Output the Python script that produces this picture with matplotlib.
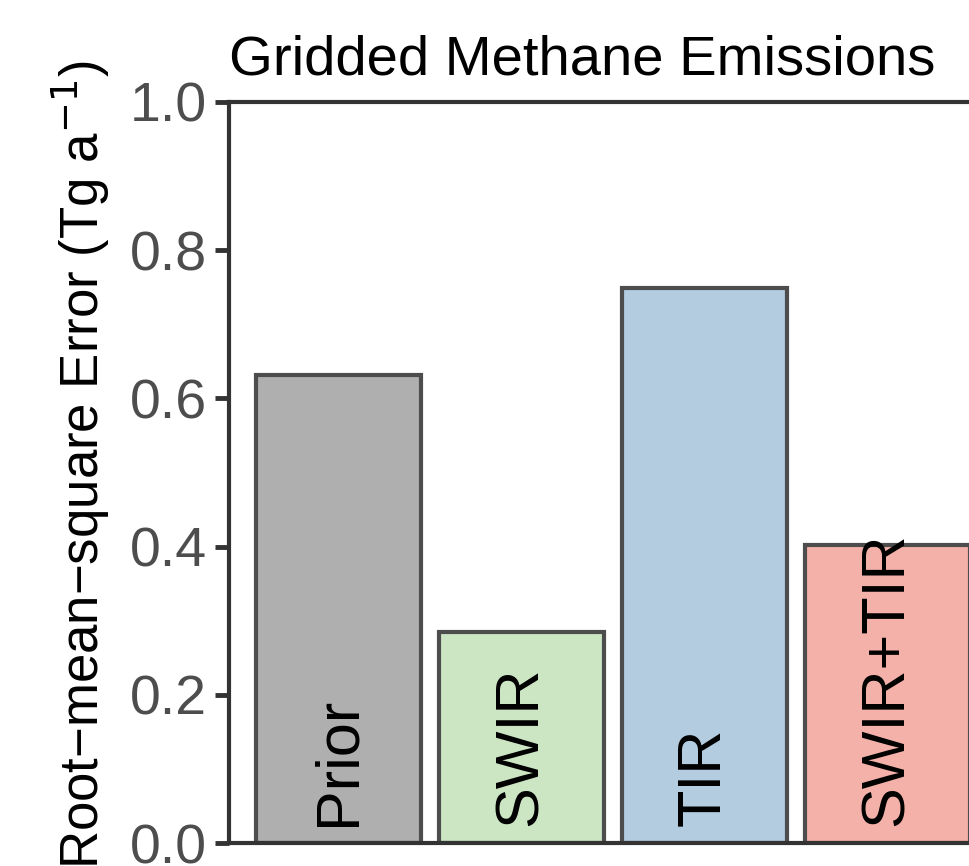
import numpy as np
import matplotlib
matplotlib.use('Agg')
import matplotlib.pyplot as plt

plt.rcParams['font.family'] = ['Liberation Sans', 'DejaVu Sans']

# data
categories = ['Prior', 'SWIR', 'TIR', 'SWIR+TIR']
rmse = [0.632, 0.285, 0.749, 0.402]
bar_colors = ['#AFAFAF', '#CCE6C4', '#B3CCE0', '#F4B1A9']
yticks = [0.0, 0.2, 0.4, 0.6, 0.8, 1.0]

fig = plt.figure(figsize=(9.7, 8.66), dpi=100)
ax = fig.add_axes([229/970, 1-843/866, (997-229)/970, (843-102)/866])

x = np.arange(len(categories))
ax.bar(x, rmse, width=0.9, color=bar_colors, edgecolor='#4D4D4D', linewidth=3)

for xi, name in zip(x, categories):
    ax.text(xi, 0.023, name, rotation=90, ha='center', va='bottom',
            fontsize=44, color='black')

ax.set_xlim(-0.6, 3.6)
ax.set_ylim(0, 1)
ax.set_xticks([])
ax.set_yticks(yticks)
ax.set_yticklabels(['%.1f' % t for t in yticks])
ax.tick_params(axis='y', length=10, width=3.5, color='#333333',
               labelsize=40, labelcolor='#4D4D4D', pad=6)
for sp in ax.spines.values():
    sp.set_linewidth(3)
    sp.set_color('#333333')

ax.set_ylabel('Root\u2212mean\u2212square Error (Tg a$^{-1}$)', fontsize=38,
              color='black')
ax.yaxis.set_label_coords(-0.152, 0.51)
ax.set_title('Gridded Methane Emissions', fontsize=40.5, color='black', loc='left',
             pad=20)

fig.savefig('out.png', dpi=100)
